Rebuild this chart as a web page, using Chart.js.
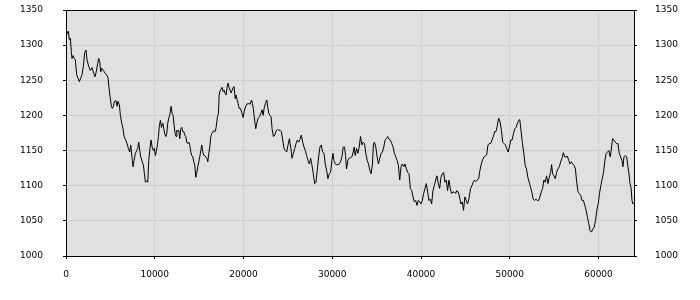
<!DOCTYPE html>
<html lang="en">
<head>
    <meta charset="UTF-8">
    <title>Series</title>
    <script src="https://cdn.jsdelivr.net/npm/chart.js@4.4.0/dist/chart.umd.min.js"></script>
    <style>
        html, body { margin: 0; padding: 0; background: #fff; }
        #wrap { width: 700px; height: 300px; position: relative; }
    </style>
</head>
<body>
    <div id="wrap"><canvas id="seriesChart"></canvas></div>

    <script>
        // values
        const xs = [
            0, 113, 263, 376, 489, 602, 677, 789, 940, 1053, 1203, 1353, 1504, 1654, 1805, 1955, 2105, 2256, 2368, 2556,
            2744, 2932, 3120, 3271, 3421, 3571, 3684, 3797, 3910, 4023, 4211, 4398, 4586, 4737, 4850, 4962, 5113, 5226, 5338, 5451,
            5639, 5752, 5865, 6015, 6128, 6278, 6429, 6541, 6692, 6880, 7030, 7180, 7293, 7444, 7556, 7669, 7820, 7970, 8083, 8195,
            8308, 8421, 8571, 8722, 8835, 8947, 9098, 9211, 9323, 9474, 9586, 9699, 9850, 9962, 10075, 10188, 10301, 10414, 10526, 10639,
            10752, 10902, 11015, 11128, 11241, 11353, 11466, 11617, 11729, 11842, 11955, 12068, 12180, 12293, 12406, 12481, 12594, 12707, 12820, 12932,
            13045, 13158, 13271, 13383, 13496, 13609, 13722, 13835, 13947, 14060, 14173, 14286, 14398, 14511, 14624, 14737, 14850, 14962, 15075, 15188,
            15301, 15414, 15526, 15639, 15752, 15865, 15977, 16090, 16203, 16316, 16429, 16541, 16692, 16805, 16917, 17068, 17180, 17256, 17368, 17481,
            17594, 17707, 17820, 17932, 18045, 18158, 18271, 18383, 18496, 18609, 18722, 18835, 18947, 19060, 19173, 19286, 19398, 19511, 19663, 19813,
            19963, 20075, 20225, 20375, 20562, 20749, 20899, 21011, 21124, 21273, 21386, 21498, 21648, 21798, 21948, 22097, 22210, 22322, 22472, 22622,
            22734, 22846, 22996, 23109, 23221, 23371, 23521, 23670, 23820, 23970, 24120, 24270, 24419, 24569, 24719, 24869, 25019, 25169, 25318, 25468,
            25618, 25768, 25918, 26067, 26217, 26367, 26517, 26667, 26816, 26966, 27116, 27266, 27416, 27566, 27715, 27865, 28015, 28165, 28315, 28464,
            28614, 28764, 28914, 29064, 29213, 29363, 29513, 29663, 29813, 29963, 30075, 30187, 30337, 30487, 30637, 30787, 30936, 31086, 31236, 31386,
            31498, 31610, 31760, 31910, 32060, 32210, 32360, 32472, 32584, 32734, 32884, 33034, 33184, 33333, 33483, 33633, 33783, 33933, 34082, 34232,
            34382, 34532, 34644, 34757, 34906, 35056, 35206, 35356, 35506, 35655, 35805, 35955, 36105, 36255, 36404, 36554, 36704, 36854, 37004, 37154,
            37303, 37453, 37603, 37753, 37903, 38052, 38202, 38352, 38502, 38652, 38801, 38951, 39101, 39251, 39401, 39551, 39700, 39850, 40000, 40150,
            40300, 40449, 40599, 40749, 40899, 41049, 41199, 41348, 41498, 41648, 41798, 41948, 42097, 42247, 42397, 42547, 42697, 42846, 42996, 43146,
            43296, 43446, 43596, 43745, 43895, 44045, 44195, 44345, 44494, 44644, 44794, 44944, 45094, 45243, 45393, 45585, 45736, 45887, 46038, 46189,
            46340, 46491, 46642, 46792, 46943, 47094, 47245, 47396, 47547, 47698, 47849, 48000, 48151, 48302, 48453, 48604, 48755, 48906, 49057, 49208,
            49358, 49509, 49660, 49811, 49962, 50113, 50264, 50415, 50566, 50717, 50868, 51019, 51132, 51283, 51434, 51585, 51736, 51887, 52038, 52189,
            52340, 52491, 52642, 52792, 52943, 53094, 53245, 53396, 53547, 53698, 53849, 54000, 54151, 54302, 54453, 54604, 54717, 54830, 54981, 55132,
            55283, 55434, 55585, 55736, 55887, 56038, 56189, 56340, 56491, 56642, 56792, 56943, 57094, 57245, 57396, 57547, 57698, 57849, 58000, 58151,
            58302, 58453, 58604, 58755, 58906, 59057, 59208, 59358, 59509, 59660, 59811, 59962, 60113, 60264, 60415, 60566, 60717, 60868, 61019, 61170,
            61321, 61472, 61585, 61736, 61887, 62038, 62189, 62340, 62491, 62642, 62755, 62868, 63019, 63170, 63321, 63434, 63547, 63660, 63774, 63887,
            64000
        ];
        const ys = [
            1310, 1317, 1320, 1308, 1310, 1291, 1281, 1285, 1281, 1279, 1258, 1253, 1248, 1253, 1258, 1270, 1289, 1293, 1279, 1270,
            1264, 1268, 1260, 1255, 1263, 1274, 1281, 1277, 1262, 1267, 1264, 1260, 1258, 1253, 1239, 1227, 1213, 1210, 1213, 1220,
            1221, 1213, 1220, 1215, 1200, 1189, 1181, 1170, 1166, 1160, 1153, 1148, 1158, 1139, 1127, 1136, 1146, 1150, 1153, 1162,
            1150, 1141, 1135, 1129, 1117, 1105, 1107, 1105, 1136, 1155, 1165, 1155, 1150, 1153, 1143, 1150, 1158, 1170, 1186, 1193,
            1183, 1189, 1181, 1174, 1170, 1174, 1189, 1198, 1203, 1213, 1203, 1200, 1186, 1174, 1170, 1179, 1177, 1179, 1167, 1181,
            1183, 1177, 1177, 1172, 1170, 1162, 1160, 1162, 1158, 1148, 1143, 1141, 1134, 1129, 1112, 1119, 1127, 1134, 1141, 1150,
            1158, 1148, 1143, 1143, 1141, 1139, 1134, 1146, 1155, 1170, 1174, 1177, 1178, 1177, 1183, 1198, 1203, 1229, 1236, 1237,
            1240, 1234, 1236, 1231, 1229, 1241, 1246, 1239, 1236, 1232, 1236, 1240, 1241, 1224, 1229, 1222, 1217, 1210, 1210, 1204,
            1197, 1205, 1212, 1216, 1217, 1216, 1222, 1217, 1208, 1191, 1181, 1189, 1196, 1198, 1203, 1208, 1200, 1210, 1217, 1222,
            1212, 1203, 1200, 1198, 1181, 1170, 1172, 1178, 1180, 1179, 1179, 1177, 1165, 1153, 1150, 1148, 1158, 1167, 1155, 1139,
            1146, 1153, 1160, 1165, 1162, 1166, 1172, 1162, 1155, 1150, 1143, 1136, 1131, 1139, 1129, 1117, 1103, 1105, 1122, 1141,
            1155, 1158, 1148, 1146, 1131, 1122, 1110, 1117, 1119, 1136, 1146, 1136, 1131, 1130, 1130, 1131, 1134, 1141, 1155, 1155,
            1143, 1124, 1136, 1139, 1140, 1141, 1148, 1155, 1143, 1153, 1146, 1155, 1170, 1158, 1162, 1160, 1146, 1136, 1131, 1122,
            1117, 1131, 1160, 1162, 1155, 1141, 1131, 1139, 1146, 1148, 1155, 1165, 1167, 1170, 1166, 1165, 1160, 1155, 1146, 1141,
            1136, 1129, 1108, 1127, 1131, 1127, 1131, 1124, 1119, 1117, 1096, 1093, 1084, 1077, 1079, 1072, 1079, 1077, 1074, 1079,
            1089, 1096, 1103, 1091, 1079, 1081, 1074, 1093, 1100, 1108, 1114, 1103, 1096, 1112, 1117, 1119, 1105, 1108, 1093, 1108,
            1096, 1089, 1091, 1091, 1089, 1093, 1091, 1084, 1074, 1077, 1065, 1084, 1079, 1074, 1081, 1096, 1100, 1105, 1108, 1106,
            1108, 1110, 1122, 1131, 1137, 1141, 1142, 1144, 1158, 1160, 1160, 1165, 1170, 1177, 1177, 1186, 1196, 1191, 1179, 1162,
            1160, 1158, 1153, 1148, 1155, 1165, 1165, 1174, 1181, 1183, 1189, 1193, 1194, 1177, 1160, 1146, 1129, 1124, 1112, 1105,
            1098, 1091, 1081, 1079, 1081, 1079, 1079, 1084, 1091, 1096, 1108, 1105, 1114, 1103, 1112, 1119, 1130, 1117, 1114, 1110,
            1119, 1124, 1127, 1134, 1139, 1147, 1141, 1141, 1142, 1136, 1131, 1134, 1131, 1129, 1124, 1105, 1091, 1089, 1086, 1079,
            1079, 1072, 1065, 1055, 1046, 1036, 1034, 1038, 1041, 1050, 1065, 1074, 1089, 1100, 1110, 1119, 1136, 1146, 1148, 1150,
            1141, 1155, 1167, 1165, 1162, 1160, 1160, 1146, 1141, 1136, 1127, 1141, 1143, 1141, 1127, 1117, 1103, 1098, 1079, 1074,
            1076
        ];
        const xTicks = [0, 10000, 20000, 30000, 40000, 50000, 60000];
        const yTicks = [1000, 1050, 1100, 1150, 1200, 1250, 1300, 1350];
        const xMin = 0, xMax = 64000;
        const yMin = 1000, yMax = 1350;

        Chart.defaults.font.family = 'DejaVu Sans';
        Chart.defaults.font.size = 9;
        Chart.defaults.color = '#000';

        // grey plot background and a black frame round it
        const plotFrame = {
            id: 'plotFrame',
            beforeDraw(chart) {
                const { ctx, chartArea: a } = chart;
                ctx.save();
                ctx.fillStyle = '#e0e0e0';
                ctx.fillRect(a.left, a.top, a.right - a.left, a.bottom - a.top);
                ctx.restore();
            },
            afterDraw(chart) {
                const { ctx, chartArea: a } = chart;
                ctx.save();
                ctx.strokeStyle = '#000';
                ctx.lineWidth = 1;
                ctx.strokeRect(Math.round(a.left) + 0.5, Math.round(a.top) + 0.5,
                    Math.round(a.right) - Math.round(a.left), Math.round(a.bottom) - Math.round(a.top));
                ctx.restore();
            }
        };

        const useTicks = list => scale => {
            scale.ticks = list.map(v => ({ value: v }));
        };

        const noPad = scale => {
            scale.paddingTop = 0;
            scale.paddingBottom = 0;
            scale.paddingLeft = 0;
            scale.paddingRight = 0;
        };

        const yAxis = (pos, pad) => ({
            type: 'linear',
            position: pos,
            min: yMin,
            max: yMax,
            ticks: { padding: pad, color: '#000', autoSkip: false, callback: v => String(v) },
            grid: {
                color: '#cfcfcf',
                drawOnChartArea: pos === 'left',
                tickLength: 3,
                tickColor: '#000'
            },
            border: { color: '#000' },
            afterBuildTicks: useTicks(yTicks),
            afterFit: scale => { scale.width = 66; noPad(scale); }
        });

        new Chart(document.getElementById('seriesChart'), {
            type: 'line',
            data: {
                datasets: [{
                    data: xs.map((x, i) => ({ x: x, y: ys[i] })),
                    borderColor: '#000',
                    borderWidth: 1,
                    pointRadius: 0,
                    tension: 0,
                    fill: false
                }]
            },
            options: {
                responsive: true,
                maintainAspectRatio: false,
                animation: false,
                layout: { padding: { top: 10, left: 0, right: 0, bottom: 0 } },
                plugins: { legend: { display: false }, tooltip: { enabled: false } },
                scales: {
                    x: {
                        type: 'linear',
                        min: xMin,
                        max: xMax,
                        ticks: { padding: 10, color: '#000', maxRotation: 0, autoSkip: false, callback: v => String(v) },
                        grid: { color: '#cfcfcf', tickLength: 3, tickColor: '#000' },
                        border: { color: '#000' },
                        afterBuildTicks: useTicks(xTicks),
                        afterFit: scale => { scale.height = 44; noPad(scale); }
                    },
                    y: yAxis('left', 20),
                    y2: yAxis('right', 18)
                }
            },
            plugins: [plotFrame]
        });
    </script>
</body>
</html>
